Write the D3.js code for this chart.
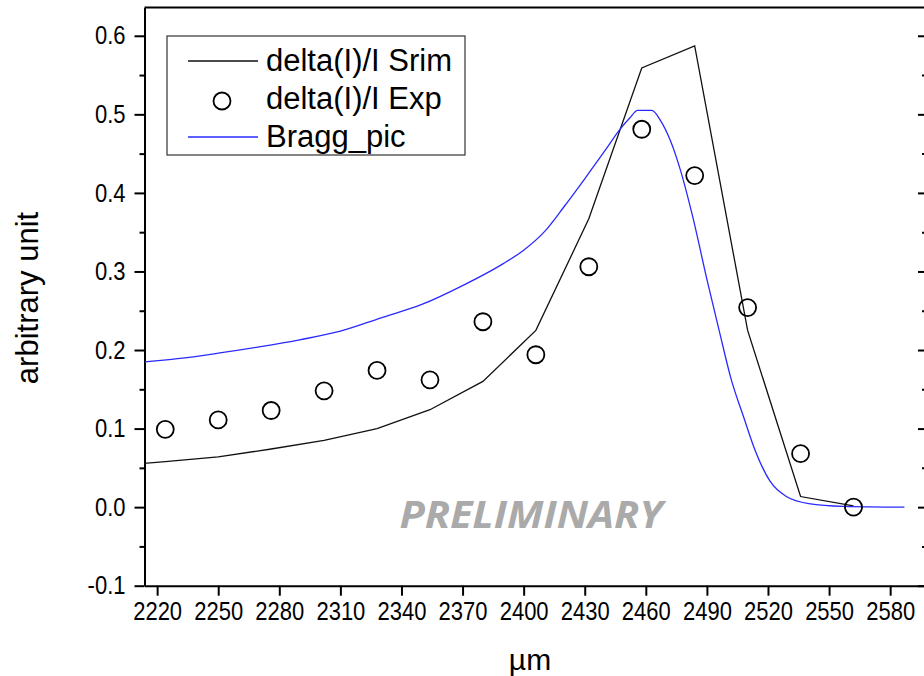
<!DOCTYPE html>
<html>
<head>
<meta charset="utf-8">
<style>
  body { margin: 0; background: #fff; }
  svg { display: block; font-family: "Liberation Sans", Arial, sans-serif; }
  .axis path, .axis line { stroke: #000; stroke-width: 2; }
</style>
</head>
<body>
<script src="https://d3js.org/d3.v7.min.js"></script>
<script>
// x positions (µm) shared by the simulated line and the measured points
var positions = [2198, 2224, 2250, 2276, 2302, 2328, 2354, 2380, 2406, 2432, 2458, 2484, 2510, 2536, 2562];
var srim = [0.052, 0.058, 0.064, 0.074, 0.085, 0.100, 0.124, 0.160, 0.225, 0.367, 0.559, 0.587, 0.225, 0.0135, 0.0017];

var expPositions = [2224, 2250, 2276, 2302, 2328, 2354, 2380, 2406, 2432, 2458, 2484, 2510, 2536, 2562];
var exp = [0.099, 0.111, 0.123, 0.148, 0.174, 0.162, 0.236, 0.194, 0.306, 0.481, 0.422, 0.254, 0.068, 0.0];

// Bragg peak curve
var braggX = [2214, 2230, 2250, 2270, 2290, 2310, 2330, 2350, 2370, 2390, 2400, 2410, 2420, 2430, 2440, 2447, 2452, 2456, 2463, 2467, 2472, 2477, 2483, 2490, 2496, 2502, 2508, 2513, 2521, 2529, 2540, 2557, 2587];
var braggY = [0.185, 0.189, 0.196, 0.204, 0.213, 0.224, 0.241, 0.258, 0.282, 0.310, 0.327, 0.350, 0.383, 0.418, 0.454, 0.480, 0.495, 0.505, 0.505, 0.493, 0.467, 0.429, 0.370, 0.290, 0.225, 0.162, 0.115, 0.077, 0.033, 0.0135, 0.0045, 0.001, 0.0];

var xTicks = [2220, 2250, 2280, 2310, 2340, 2370, 2400, 2430, 2460, 2490, 2520, 2550, 2580];
var yTicks = [-0.1, 0.0, 0.1, 0.2, 0.3, 0.4, 0.5, 0.6];
var yMinor = [-0.05, 0.05, 0.15, 0.25, 0.35, 0.45, 0.55];

var seriesNames = ["delta(I)/I Srim", "delta(I)/I Exp", "Bragg_pic"];

var W = 924, H = 676;
var plotLeft = 144.5, plotRight = 926, plotTop = 7.5, plotBottom = 585.7;

var svg = d3.select("body").append("svg")
    .attr("width", W)
    .attr("height", H);

var x = d3.scaleLinear().domain([2213.8, 2597.6]).range([plotLeft, plotRight]);
var y = d3.scaleLinear().domain([-0.1, 0.636]).range([plotBottom, plotTop]);

svg.append("clipPath").attr("id", "plotclip")
  .append("rect")
    .attr("x", plotLeft).attr("y", plotTop)
    .attr("width", plotRight - plotLeft).attr("height", plotBottom - plotTop);

// minor y ticks, left (outward) and right (inward)
svg.append("g")
    .attr("class", "axis")
    .attr("transform", "translate(" + plotLeft + ",0)")
    .call(d3.axisLeft(y).tickValues(yMinor).tickSize(5).tickFormat(""))
    .select(".domain").remove();
svg.append("g")
    .attr("class", "axis")
    .attr("transform", "translate(" + plotRight + ",0)")
    .call(d3.axisLeft(y).tickValues(yMinor).tickSize(4).tickFormat(""))
    .select(".domain").remove();
svg.append("g")
    .attr("class", "axis")
    .attr("transform", "translate(" + plotRight + ",0)")
    .call(d3.axisLeft(y).tickValues(yTicks).tickSize(8).tickFormat(""))
    .select(".domain").remove();

// main axes
var yAxisG = svg.append("g")
    .attr("class", "axis")
    .attr("transform", "translate(" + plotLeft + ",0)")
    .call(d3.axisLeft(y).tickValues(yTicks).tickSize(10).tickSizeOuter(0).tickPadding(9)
          .tickFormat(function(d) { return d.toFixed(1); }));

var xAxisG = svg.append("g")
    .attr("class", "axis")
    .attr("transform", "translate(0," + plotBottom + ")")
    .call(d3.axisBottom(x).tickValues(xTicks).tickSize(10).tickSizeOuter(0)
          .tickFormat(d3.format("d")));

// tick labels in the reference are a little taller than wide
[yAxisG, xAxisG].forEach(function(g) {
  g.selectAll("text")
    .style("font-family", "'Liberation Sans', Arial, sans-serif")
    .style("font-size", "22px")
    .attr("fill", "#000");
});
yAxisG.selectAll(".tick text")
    .attr("transform", "scale(1,1.15)");
xAxisG.selectAll(".tick text")
    .attr("y", 0)
    .attr("transform", "translate(0,16)scale(1,1.15)");

// frame: top and right edges
svg.append("line")
    .attr("x1", plotLeft).attr("x2", plotRight)
    .attr("y1", plotTop).attr("y2", plotTop)
    .attr("stroke", "#000").attr("stroke-width", 2);
svg.append("line")
    .attr("x1", plotRight).attr("x2", plotRight)
    .attr("y1", plotTop).attr("y2", plotBottom)
    .attr("stroke", "#000").attr("stroke-width", 2);

// axis titles
svg.append("text")
    .attr("transform", "translate(38,298)rotate(-90)")
    .attr("text-anchor", "middle")
    .attr("font-size", 31)
    .text("arbitrary unit");

svg.append("text")
    .attr("x", 530).attr("y", 670)
    .attr("text-anchor", "middle")
    .attr("font-size", 30)
    .text("µm");

// watermark
svg.append("text")
    .attr("transform", "translate(531,528)scale(1.12,1)")
    .attr("text-anchor", "middle")
    .attr("font-family", "'Open Sans', sans-serif")
    .attr("font-weight", "bold")
    .attr("font-style", "italic")
    .attr("font-size", 37)
    .attr("fill", "#aaaaaa")
    .text("PRELIMINARY");

var plot = svg.append("g").attr("clip-path", "url(#plotclip)");

// Srim line
var srimLine = d3.line()
    .x(function(d, i) { return x(positions[i]); })
    .y(function(d) { return y(d); });
plot.append("path")
    .datum(srim)
    .attr("d", srimLine)
    .attr("fill", "none")
    .attr("stroke", "#111")
    .attr("stroke-width", 1.3);

// Bragg curve
var braggLine = d3.line()
    .x(function(d, i) { return x(braggX[i]); })
    .y(function(d) { return y(d); })
    .curve(d3.curveMonotoneX);
plot.append("path")
    .datum(braggY)
    .attr("d", braggLine)
    .attr("fill", "none")
    .attr("stroke", "#2a2aff")
    .attr("stroke-width", 1.3);

// experimental points
plot.selectAll("circle.exp")
    .data(exp)
    .enter().append("circle")
    .attr("class", "exp")
    .attr("cx", function(d, i) { return x(expPositions[i]); })
    .attr("cy", function(d) { return y(d); })
    .attr("r", 8.5)
    .attr("fill", "none")
    .attr("stroke", "#000")
    .attr("stroke-width", 1.8);

// legend
var legend = svg.append("g");
legend.append("rect")
    .attr("x", 167).attr("y", 36)
    .attr("width", 298).attr("height", 119)
    .attr("fill", "#fff")
    .attr("stroke", "#333")
    .attr("stroke-width", 1.2);

var rows = legend.selectAll("g.row")
    .data(seriesNames)
    .enter().append("g")
    .attr("class", "row")
    .attr("transform", function(d, i) { return "translate(0," + (61 + 38 * i) + ")"; });

rows.filter(function(d, i) { return i !== 1; })
  .append("line")
    .attr("x1", 188).attr("x2", 258)
    .attr("y1", 0).attr("y2", 0)
    .attr("stroke", function(d, i) { return i === 0 ? "#111" : "#2a2aff"; })
    .attr("stroke-width", 1.3);

rows.filter(function(d, i) { return i === 1; })
  .append("circle")
    .attr("cx", 222).attr("cy", 2)
    .attr("r", 8.5)
    .attr("fill", "none")
    .attr("stroke", "#000")
    .attr("stroke-width", 1.8);

rows.append("text")
    .attr("x", 266).attr("y", 10)
    .attr("font-size", 31)
    .text(function(d) { return d; });
</script>
</body>
</html>
